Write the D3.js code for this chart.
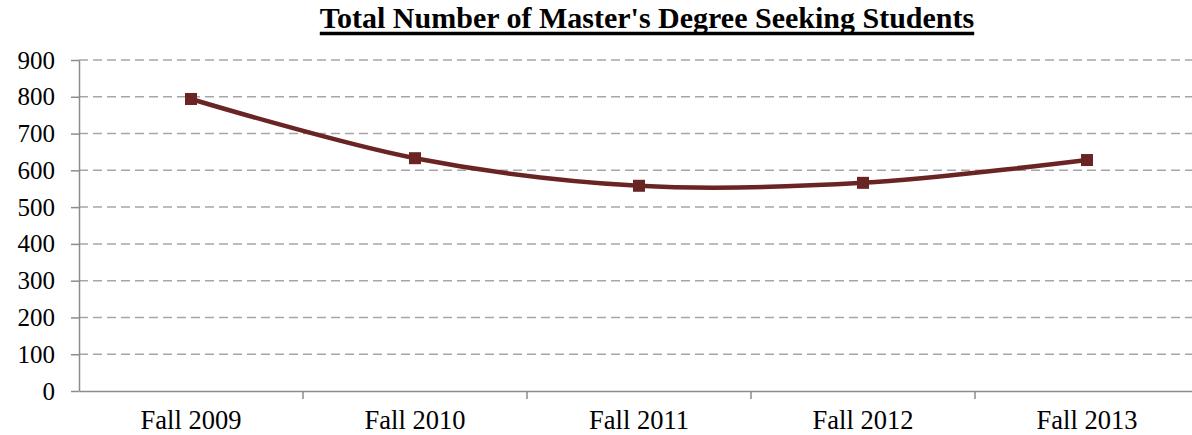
<!DOCTYPE html>
<html>
<head>
<meta charset="utf-8">
<script src="https://cdn.jsdelivr.net/npm/d3@7"></script>
<style>
  body { margin: 0; background: #fff; }
  text { font-family: "Liberation Serif", "Times New Roman", serif; }
</style>
</head>
<body>
<div id="chart"></div>
<script>
const categories = ['Fall 2009', 'Fall 2010', 'Fall 2011', 'Fall 2012', 'Fall 2013'];
const students = [794, 633, 558, 566, 628];
const yTicks = [0, 100, 200, 300, 400, 500, 600, 700, 800, 900];
const title = "Total Number of Master's Degree Seeking Students";

const width = 1192, height = 435;
const margin = { top: 60, right: -7, bottom: 44, left: 79 };

const svg = d3.select('#chart').append('svg')
  .attr('width', width)
  .attr('height', height);

const x = d3.scaleBand()
  .domain(categories)
  .range([margin.left, width - margin.right]);

const y = d3.scaleLinear()
  .domain([0, 900])
  .range([height - margin.bottom, margin.top]);

// gridlines
svg.append('g')
  .selectAll('line')
  .data(yTicks.filter(d => d > 0))
  .join('line')
  .attr('x1', margin.left)
  .attr('x2', width)
  .attr('y1', d => y(d))
  .attr('y2', d => y(d))
  .attr('stroke', '#a6a6a6')
  .attr('stroke-width', 1.5)
  .attr('stroke-dasharray', '9,5');

// y axis
const yAxis = svg.append('g')
  .attr('transform', `translate(${margin.left},0)`)
  .call(d3.axisLeft(y).tickValues(yTicks).tickSize(8).tickPadding(16).tickSizeOuter(0));
yAxis.select('.domain').attr('stroke', '#8c8c8c').attr('stroke-width', 1.5);
yAxis.selectAll('.tick line').attr('stroke', '#8c8c8c').attr('stroke-width', 1.5);
yAxis.selectAll('text')
  .attr('font-size', 25)
  .attr('fill', '#000')
  .attr('font-family', '"Liberation Serif", serif');

// x axis
const xAxis = svg.append('g')
  .attr('transform', `translate(0,${y(0)})`)
  .call(d3.axisBottom(x).tickSize(0).tickPadding(19).tickSizeOuter(0));
xAxis.select('.domain').attr('stroke', '#8c8c8c').attr('stroke-width', 1.5);
xAxis.selectAll('text')
  .attr('font-size', 26.5)
  .attr('fill', '#000')
  .attr('font-family', '"Liberation Serif", serif');

// category boundary ticks
svg.append('g')
  .selectAll('line')
  .data(categories.slice(1))
  .join('line')
  .attr('x1', d => x(d))
  .attr('x2', d => x(d))
  .attr('y1', y(0))
  .attr('y2', y(0) + 8)
  .attr('stroke', '#8c8c8c')
  .attr('stroke-width', 1.5);

// line
const line = d3.line()
  .x((d, i) => x(categories[i]) + x.bandwidth() / 2)
  .y(d => y(d))
  .curve(d3.curveCardinal.tension(0));

svg.append('path')
  .datum(students)
  .attr('d', line)
  .attr('fill', 'none')
  .attr('stroke', '#6b2424')
  .attr('stroke-width', 4.5);

svg.append('g')
  .selectAll('rect')
  .data(students)
  .join('rect')
  .attr('x', (d, i) => x(categories[i]) + x.bandwidth() / 2 - 6)
  .attr('y', d => y(d) - 6)
  .attr('width', 12)
  .attr('height', 12)
  .attr('fill', '#6b2424');

// title
const t = svg.append('text')
  .attr('x', 647)
  .attr('y', 28)
  .attr('text-anchor', 'middle')
  .attr('font-size', 30)
  .attr('font-weight', 'bold')
  .attr('fill', '#000')
  .text(title);

const bb = t.node().getBBox();
svg.append('line')
  .attr('x1', bb.x)
  .attr('x2', bb.x + bb.width)
  .attr('y1', 33.5)
  .attr('y2', 33.5)
  .attr('stroke', '#000')
  .attr('stroke-width', 3.5);
</script>
</body>
</html>
